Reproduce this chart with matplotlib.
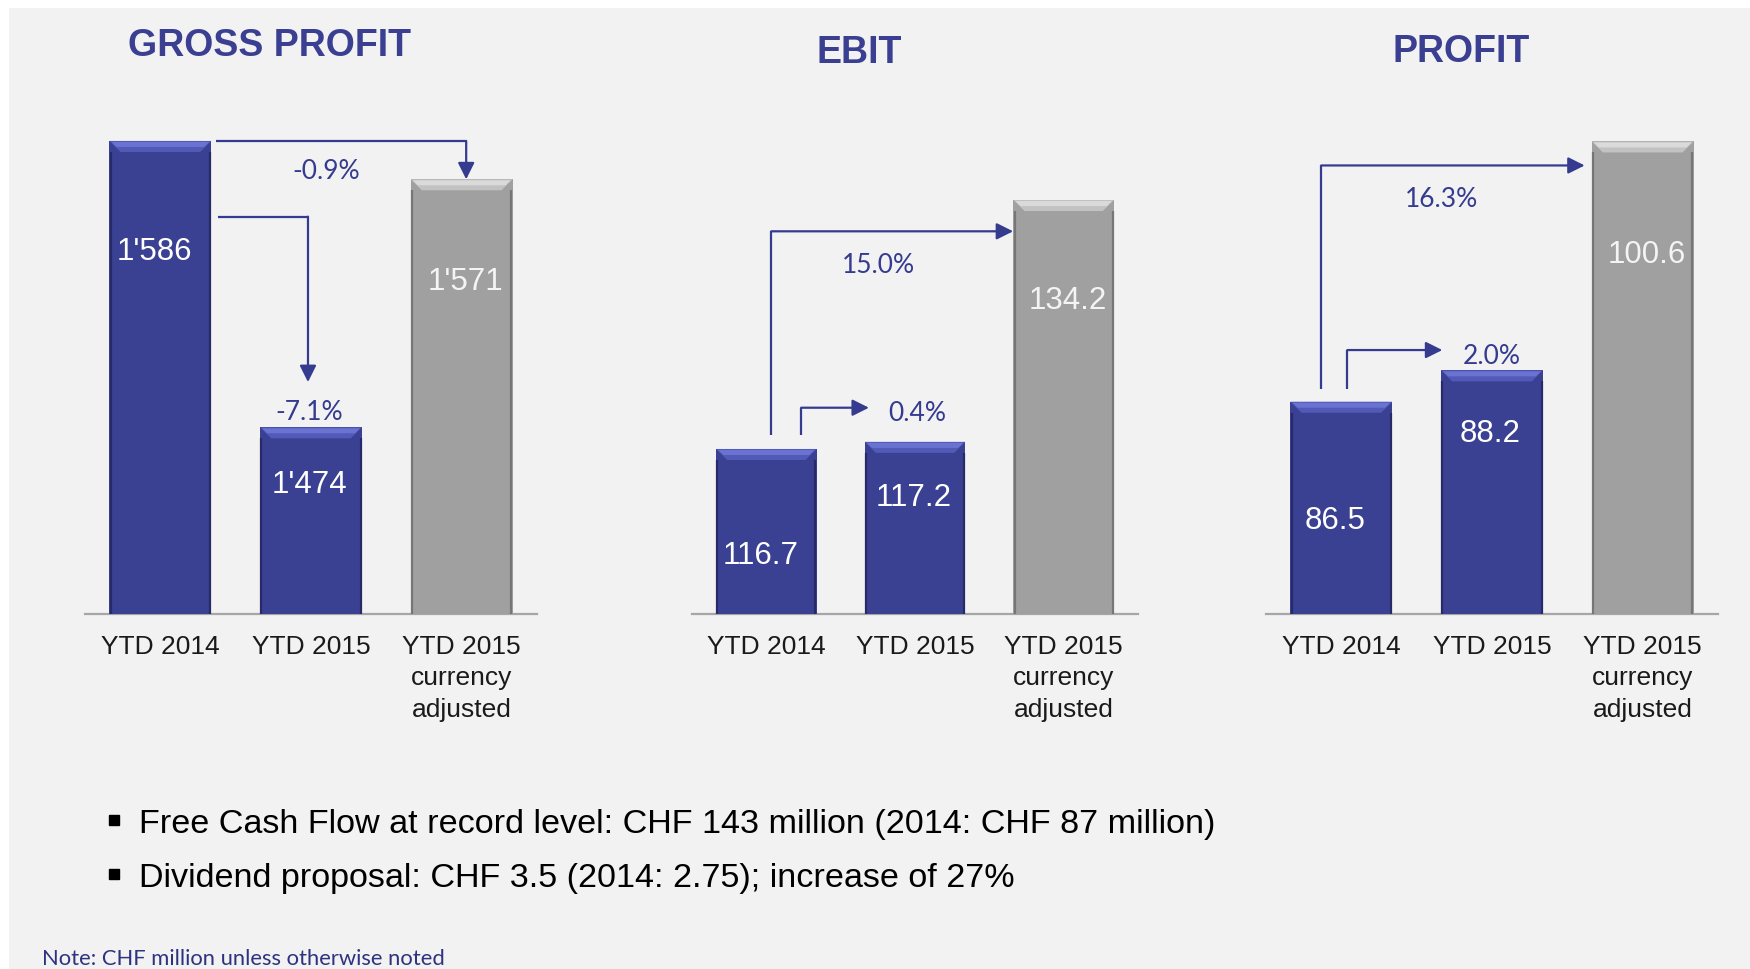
import matplotlib.pyplot as plt
from matplotlib.patches import Polygon, Rectangle
from matplotlib.lines import Line2D
from matplotlib.transforms import offset_copy

W, H, DPI = 1750, 970, 100

# ---- data ----
categories = ["YTD 2014", "YTD 2015", "YTD 2015\ncurrency\nadjusted"]
titles = ["GROSS PROFIT", "EBIT", "PROFIT"]
gross_profit = [1586, 1474, 1571]
ebit = [116.7, 117.2, 134.2]
profit = [86.5, 88.2, 100.6]
gross_profit_labels = ["1'586", "1'474", "1'571"]
ebit_labels = ["116.7", "117.2", "134.2"]
profit_labels = ["86.5", "88.2", "100.6"]
gross_profit_pct = ["-0.9%", "-7.1%"]
ebit_pct = ["15.0%", "0.4%"]
profit_pct = ["16.3%", "2.0%"]

bullets = ["Free Cash Flow at record level: CHF 143 million (2014: CHF 87 million)",
           "Dividend proposal: CHF 3.5 (2014: 2.75); increase of 27%"]
note = "Note: CHF million unless otherwise noted"

NAVY = "#3b4192"
ARROW = "#353b8f"
GREY = "#a0a0a0"
bar_colors = [NAVY, NAVY, GREY]

# ---- layout (pixels / annotation positions) ----
panels = [
    dict(values=gross_profit, labels=gross_profit_labels, pct=gross_profit_pct,
         title=titles[0], title_xy=(269, 46), px=(85, 537), ylim=(1401, 1602.4),
         label_y=[1544.5, 1453.4, 1532.4],
         arrows=[[(0.37, 1586), (2.03, 1586), (2.03, 1571)],
                 [(0.38, 1556.4), (0.98, 1556.4), (0.98, 1491.7)]],
         pct_xy=[(1.1, 1576), (0.99, 1481.6)]),
    dict(values=ebit, labels=ebit_labels, pct=ebit_pct,
         title=titles[1], title_xy=(859, 53), px=(692, 1138), ylim=(105.1, 141.3),
         label_y=[109.5, 113.6, 127.4],
         arrows=[[(0.033, 117.7), (0.033, 132.0), (1.66, 132.0)],
                 [(0.234, 117.7), (0.234, 119.6), (0.69, 119.6)]],
         pct_xy=[(0.756, 129.9), (1.017, 119.5)]),
    dict(values=profit, labels=profit_labels, pct=profit_pct,
         title=titles[2], title_xy=(1461, 52), px=(1266, 1718), ylim=(75.0, 102.9),
         label_y=[80.3, 85.0, 94.7],
         arrows=[[(-0.133, 87.2), (-0.133, 99.3), (1.615, 99.3)],
                 [(0.04, 87.2), (0.04, 89.3), (0.67, 89.3)]],
         pct_xy=[(0.664, 97.7), (1.0, 89.2)]),
]
LABEL_DX = [-0.04, -0.01, 0.025]
AX_TOP, AX_BOTTOM = 100, 615
BAR_W = 0.675
XLIM = (-0.5, 2.5)

fig = plt.figure(figsize=(W / DPI, H / DPI), dpi=DPI, facecolor="white")
fig.add_artist(Rectangle((9 / W, 0), 1, (H - 9) / H, transform=fig.transFigure,
                         facecolor="#f2f2f2", edgecolor="none", zorder=0))


def bevel(ax, x, top, bottom, dxp, dyp, light, mid, dark):
    x0, x1 = x - BAR_W / 2, x + BAR_W / 2
    ax.add_patch(Polygon([(x0, top), (x1, top), (x1 - 11 * dxp, top - 11 * dyp),
                          (x0 + 11 * dxp, top - 11 * dyp)],
                         closed=True, facecolor=mid, edgecolor="none", zorder=3))
    ax.add_patch(Polygon([(x0 + 2 * dxp, top - 1 * dyp), (x1 - 2 * dxp, top - 1 * dyp),
                          (x1 - 7 * dxp, top - 6 * dyp), (x0 + 7 * dxp, top - 6 * dyp)],
                         closed=True, facecolor=light, edgecolor="none", zorder=3))
    for xe in (x0 + 1.2 * dxp, x1 - 1.2 * dxp):
        ax.plot([xe, xe], [bottom, top - 11 * dyp], color=dark, lw=1.6, zorder=3,
                solid_capstyle="butt")


for p in panels:
    left, right = p["px"]
    ax = fig.add_axes([left / W, (H - AX_BOTTOM) / H, (right - left) / W,
                       (AX_BOTTOM - AX_TOP) / H])
    ax.set_xlim(*XLIM)
    ax.set_ylim(*p["ylim"])
    ax.patch.set_alpha(0)
    for s in ax.spines.values():
        s.set_visible(False)
    ax.set_yticks([])
    ax.set_xticks(range(len(categories)))
    ax.set_xticklabels(categories, fontsize=19, linespacing=1.38, color="#1a1a1a",
                       family="Liberation Sans")
    ax.tick_params(axis="x", length=0, pad=14.5)

    dxp = (XLIM[1] - XLIM[0]) / (right - left)
    dyp = (p["ylim"][1] - p["ylim"][0]) / (AX_BOTTOM - AX_TOP)
    base = p["ylim"][0]
    shifted = offset_copy(ax.transData, fig=fig, y=-3.5, units="dots")

    xs = list(range(len(p["values"])))
    ax.bar(xs, [v - base for v in p["values"]], bottom=base, width=BAR_W,
           color=bar_colors, zorder=2)
    for i, v in enumerate(p["values"]):
        if bar_colors[i] == NAVY:
            bevel(ax, i, v, base, dxp, dyp, "#6a72d2", "#525ab8", "#262a68")
        else:
            bevel(ax, i, v, base, dxp, dyp, "#dadada", "#c2c2c2", "#767676")
        ax.text(i + LABEL_DX[i], p["label_y"][i], p["labels"][i], ha="center",
                va="center", fontsize=22.5,
                color="white" if bar_colors[i] == NAVY else "#f4f4f4",
                family="Liberation Sans", zorder=4, transform=shifted)

    ax.axhline(base, color="#a6a6a6", lw=1.6, clip_on=False, zorder=1)

    for path, (tx, ty), lab in zip(p["arrows"], p["pct_xy"], p["pct"]):
        xs_, ys_ = zip(*path[:-1])
        ax.plot(xs_, ys_, color=ARROW, lw=1.6, zorder=3, solid_capstyle="butt")
        ax.annotate("", xy=path[-1], xytext=path[-2],
                    arrowprops=dict(arrowstyle="-|>,head_length=0.5,head_width=0.25",
                                    mutation_scale=20, color=ARROW, lw=1.6,
                                    shrinkA=0, shrinkB=0), zorder=3)
        ax.text(tx, ty, lab, ha="center", va="center", fontsize=19, color=ARROW,
                family="Lato", zorder=4, transform=shifted)

    tx, ty = p["title_xy"]
    fig.text(tx / W, 1 - ty / H, p["title"], ha="center", va="center", fontsize=27,
             fontweight="bold", color="#3a3f91", family="Liberation Sans")

for line, base_y in zip(bullets, [833, 887]):
    fig.add_artist(Line2D([114 / W], [1 - (base_y - 12) / H], marker="s", ms=6.5,
                          color="black", transform=fig.transFigure))
    fig.text(139 / W, 1 - base_y / H, line, ha="left", va="baseline", fontsize=24.6,
             color="black", family="Liberation Sans")

fig.text(42 / W, 1 - 965 / H, note, ha="left", va="baseline", fontsize=15.8,
         color="#2e3380", family="Lato")

fig.savefig("out.png", dpi=DPI, facecolor="white")
